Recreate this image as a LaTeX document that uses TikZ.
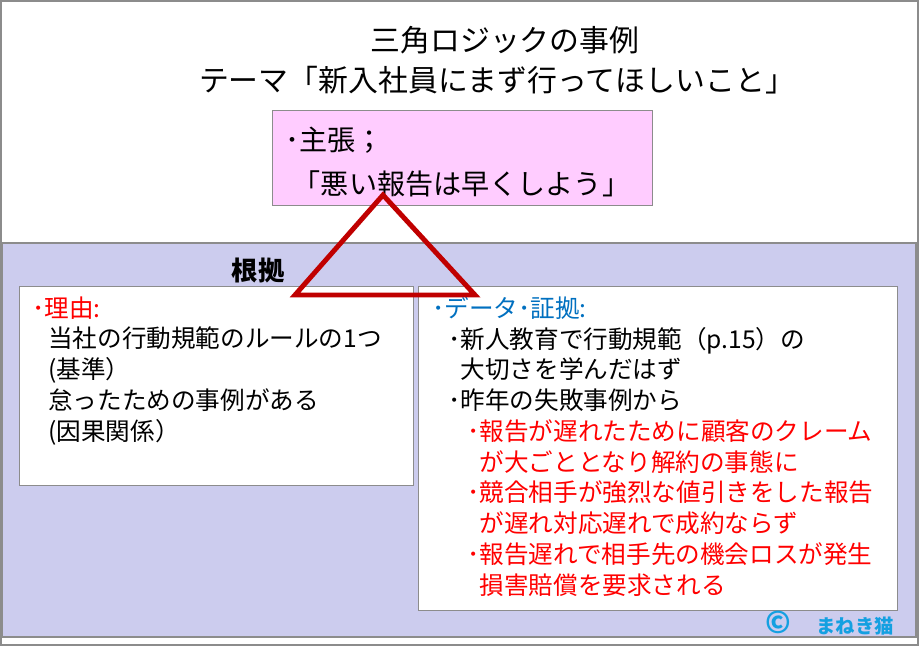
\documentclass[tikz,border=0pt]{standalone}
\usepackage{fontspec}
\setmainfont{Noto Sans CJK JP}
\usepackage{xcolor}
\usepackage{tikz}
\usetikzlibrary{positioning}

\definecolor{framegray}{RGB}{140,140,140}
\definecolor{panelbg}{RGB}{204,204,238}
\definecolor{claimbg}{RGB}{255,204,255}
\definecolor{reasonred}{RGB}{255,0,0}
\definecolor{datablue}{RGB}{0,112,192}
\definecolor{signblue}{RGB}{20,160,225}
\definecolor{trired}{RGB}{192,0,0}

\begin{document}
\begin{tikzpicture}[
    x=0.02cm, y=-0.02cm,
    frame/.style={draw=framegray, line width=1.2pt},
    box/.style={draw=framegray, line width=0.8pt, anchor=north west, inner sep=0pt},
    body/.style={anchor=base west, align=left, inner sep=0pt, font=\fontsize{14}{17.5}\selectfont},
    heading/.style={anchor=base, inner sep=0pt, font=\fontsize{17}{20}\selectfont},
    logic/.style={draw=trired, line width=2.8pt, line join=miter}
]
\useasboundingbox (0,0) rectangle (919,646);

% === 外枠と背景 ===
\draw[frame, fill=white] (1,1) rectangle (918,645);
\draw[draw=framegray, line width=0.8pt, fill=panelbg] (2,243) rectangle (916,637);

% === タイトル ===
\node[heading] (title) at (505,51) {三角ロジックの事例};
\node[heading] (theme) at (497,91) {テーマ「新入社員にまず行ってほしいこと」};

% === 主張 ===
% (複数行ノードの base は最終行のベースライン)
\node[box, fill=claimbg, minimum width=7.6cm, minimum height=1.9cm] (claim) at (272,110) {};
\node[anchor=base west, align=left, inner sep=0pt, font=\fontsize{16}{24.5}\selectfont]
    (claimtext) at (285,194) {･主張；\\\hspace*{0.15cm}「悪い報告は早くしよう」};

% === 根拠 ===
\node[anchor=base, inner sep=0pt, font=\fontsize{15}{18}\selectfont\bfseries] (ground) at (258,280) {根拠};

% 理由
\node[box, fill=white, minimum width=7.88cm, minimum height=3.98cm] (reason) at (19,286) {};
\node[body] (reasontext) at (32,440) {%
    {\color{reasonred}･理由:}\\
    \hspace*{0.32cm}当社の行動規範のルールの1つ\\
    \hspace*{0.32cm}(基準）\\
    \hspace*{0.32cm}怠ったための事例がある\\
    \hspace*{0.32cm}(因果関係）};

% データ・証拠
\node[box, fill=white, minimum width=9.58cm, minimum height=6.48cm] (data) at (418,286) {};
\node[body] (datatext) at (432,594) {%
    {\color{datablue}･データ･証拠:}\\
    \hspace*{0.32cm}･新人教育で行動規範（p.15）の\\
    \hspace*{0.32cm}\phantom{･}大切さを学んだはず\\
    \hspace*{0.32cm}･昨年の失敗事例から\\
    \color{reasonred}\hspace*{0.7cm}･報告が遅れたために顧客のクレーム\\
    \color{reasonred}\hspace*{0.7cm}\phantom{･}が大ごととなり解約の事態に\\
    \color{reasonred}\hspace*{0.7cm}･競合相手が強烈な値引きをした報告\\
    \color{reasonred}\hspace*{0.7cm}\phantom{･}が遅れ対応遅れで成約ならず\\
    \color{reasonred}\hspace*{0.7cm}･報告遅れで相手先の機会ロスが発生\\
    \color{reasonred}\hspace*{0.7cm}\phantom{･}損害賠償を要求される};

% === 署名 ===
\node[anchor=east, inner sep=0pt, text=signblue, font=\fontsize{11}{14}\selectfont\bfseries]
    (sign) at (894,623) {{\fontsize{17}{17}\selectfont ©}\hspace{0.5cm}まねき猫};

% === 三角形 ===
\coordinate (apex) at (383,195);
\coordinate (baseL) at (295,295);
\coordinate (baseR) at (475,295);
\draw[logic] (apex) -- (baseL) -- (baseR) -- cycle;

\end{tikzpicture}
\end{document}
